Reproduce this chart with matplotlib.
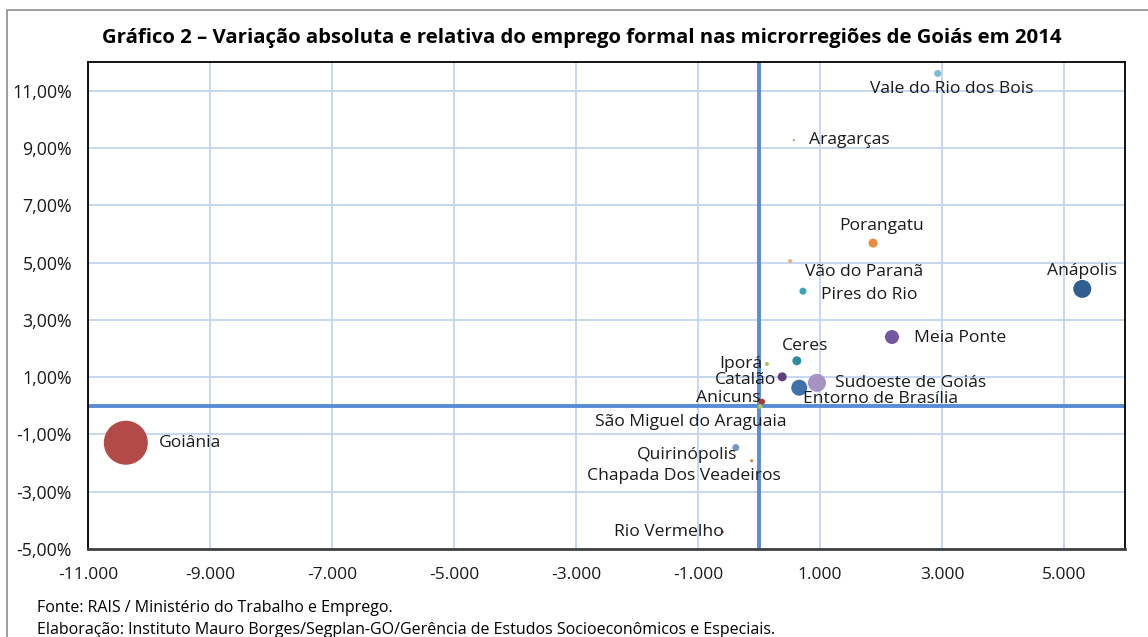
from matplotlib import pyplot as plt
from matplotlib.patches import Rectangle
from matplotlib.ticker import FuncFormatter
import numpy as np

# Dados: variação absoluta (x), variação relativa em % (y), tamanho relativo da bolha
microrregioes = ["Goiânia", "Anápolis", "Vale do Rio dos Bois", "Aragarças",
                 "Porangatu", "Vão do Paranã", "Pires do Rio", "Meia Ponte",
                 "Ceres", "Iporá", "Catalão", "Sudoeste de Goiás",
                 "Entorno de Brasília", "Anicuns", "São Miguel do Araguaia",
                 "Quirinópolis", "Chapada Dos Veadeiros", "Rio Vermelho"]
var_absoluta = [-10380, 5300, 2930, 570, 1870, 510, 720, 2180,
                620, 130, 380, 950, 660, 50, 20, -380, -120, -600]
var_relativa = [-1.29, 4.08, 11.60, 9.27, 5.68, 5.05, 4.00, 2.40,
                1.57, 1.46, 1.01, 0.80, 0.63, 0.14, -0.03, -1.46, -1.92, -4.40]
tamanho = [22, 9, 3.5, 1, 4.5, 2, 3.5, 7, 4.5, 2, 4.5, 9, 8, 3, 2.5, 3.5, 1.5, 1.5]

cores = ["#B24A47", "#2F5E91", "#7DBAD6", "#7F9A48", "#EB8A3C", "#F7A872",
         "#3BA3B8", "#74579E", "#2E8D9E", "#A3C45E", "#5E3F7E", "#A792C4",
         "#3E70AA", "#B3362C", "#A4C461", "#7496CC", "#E07830", "#C0504D"]

# posição dos rótulos (deslocamento em pontos, alinhamento)
rotulos = {
    "Goiânia": (24, 0, "left", "center"),
    "Anápolis": (0, 13, "center", "center"),
    "Vale do Rio dos Bois": (10, -11, "center", "center"),
    "Aragarças": (11, 0, "left", "center"),
    "Porangatu": (6, 12, "center", "center"),
    "Vão do Paranã": (11, -8, "left", "center"),
    "Pires do Rio": (13, -3, "left", "center"),
    "Meia Ponte": (16, -1, "left", "center"),
    "Ceres": (6, 11, "center", "center"),
    "Iporá": (-3, 0, "right", "center"),
    "Catalão": (-4, -2, "right", "center"),
    "Sudoeste de Goiás": (13, 0, "left", "center"),
    "Entorno de Brasília": (3, -8, "left", "center"),
    "Anicuns": (-1, 3, "right", "center"),
    "São Miguel do Araguaia": (-50, -11, "center", "center"),
    "Quirinópolis": (1, -5, "right", "center"),
    "Chapada Dos Veadeiros": (-49, -11, "center", "center"),
    "Rio Vermelho": (1, 0, "right", "center"),
}

plt.rcParams['font.family'] = ['Open Sans', 'DejaVu Sans']

fig = plt.figure(figsize=(11.48, 6.37), dpi=100)
ax = fig.add_axes([88/1148, 1-549/637, (1125-88)/1148, (549-62)/637])

# moldura externa
fig.patches.append(Rectangle((7/1148, -0.05), 1.2, 1-10/637+0.05,
                             transform=fig.transFigure, fill=False,
                             edgecolor="#8C8C8C", linewidth=1.2))

x = np.array(var_absoluta)
y = np.array(var_relativa) / 100
s = (2 * np.array(tamanho) * 0.72) ** 2

ax.set_xlim(-11000, 6000)
ax.set_ylim(-0.05, 0.12)
ax.set_xticks(np.arange(-11000, 6000, 2000))
ax.set_yticks(np.arange(-0.05, 0.12, 0.02))
ax.grid(True, color="#C3D4F0", linewidth=1.3)
ax.set_axisbelow(True)
ax.axvline(0, color="#5A8CD6", linewidth=2.8, zorder=1)
ax.axhline(0, color="#5A8CD6", linewidth=2.8, zorder=1)

ax.scatter(x, y, s=s, c=cores, edgecolors="none", zorder=3)

for nome, xi, yi in zip(microrregioes, x, y):
    dx, dy, ha, va = rotulos[nome]
    ax.annotate(nome, (xi, yi), xytext=(dx, dy), textcoords="offset points",
                ha=ha, va=va, fontsize=12.6, color="#1A1A1A", zorder=4)

ax.xaxis.set_major_formatter(FuncFormatter(lambda v, p: f"{v:,.0f}".replace(",", ".")))
ax.yaxis.set_major_formatter(FuncFormatter(lambda v, p: f"{v*100:.2f}%".replace(".", ",")))
ax.tick_params(length=0, colors="#1A1A1A")
ax.tick_params(axis="x", pad=13, labelsize=12.5)
ax.tick_params(axis="y", pad=11.5, labelsize=12.8)

for lado in ["top", "left", "right"]:
    ax.spines[lado].set_color("black")
    ax.spines[lado].set_linewidth(1.3)
ax.spines["bottom"].set_color("#404040")
ax.spines["bottom"].set_linewidth(2)

fig.text(582/1148, 1-38/637, "Gráfico 2 – Variação absoluta e relativa do emprego formal nas microrregiões de Goiás em 2014",
         ha="center", va="center", fontsize=14.7, fontweight="bold")
fig.text(37/1148, 1-608/637, "Fonte: RAIS / Ministério do Trabalho e Emprego.",
         ha="left", va="center", fontsize=11.5)
fig.text(37/1148, 1-630/637, "Elaboração: Instituto Mauro Borges/Segplan-GO/Gerência de Estudos Socioeconômicos e Especiais.",
         ha="left", va="center", fontsize=11.5)

plt.savefig("out.png", dpi=100)
